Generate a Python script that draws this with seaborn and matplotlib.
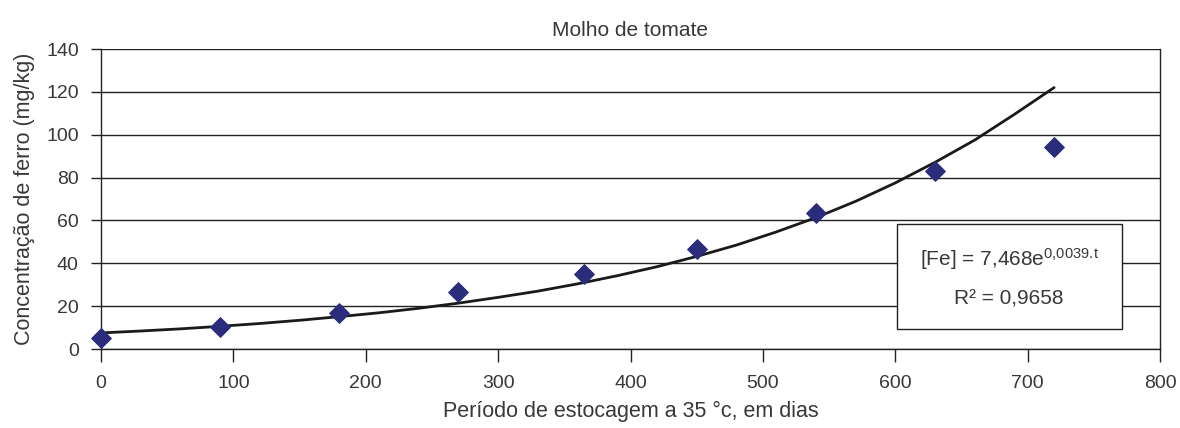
import numpy as np
import pandas as pd
import matplotlib
matplotlib.use("Agg")
import matplotlib.pyplot as plt
import seaborn as sns
from matplotlib.patches import Rectangle

# dados medidos (pontos)
dias = [0, 90, 180, 270, 365, 450, 540, 630, 720]
ferro = [5.0, 10.5, 17.0, 26.5, 35.0, 46.5, 63.5, 83.0, 94.5]

# curva de tendência
dias_curva = [0, 30, 60, 90, 120, 150, 180, 210, 240, 270, 300, 330, 360,
              390, 420, 450, 480, 510, 540, 570, 600, 630, 660, 690, 720]
ferro_curva = [7.5, 8.4, 9.4, 10.6, 11.9, 13.4, 15.1, 16.9, 19.0, 21.4, 24.1,
               27.0, 30.4, 34.2, 38.4, 43.2, 48.5, 54.6, 61.3, 68.9, 77.5,
               87.1, 97.5, 109.5, 122.0]

pontos = pd.DataFrame({"dias": dias, "ferro": ferro})
curva = pd.DataFrame({"dias": dias_curva, "ferro": ferro_curva})

sns.set_theme(style="ticks")
plt.rcParams['font.family'] = ['Liberation Sans', 'DejaVu Sans']
plt.rcParams['mathtext.default'] = 'regular'
cinza = "#383838"

fig, ax = plt.subplots(figsize=(11.8, 4.28), dpi=100)
fig.subplots_adjust(left=101/1180, right=1160/1180, bottom=1-349/428, top=1-49/428)

sns.lineplot(data=curva, x="dias", y="ferro", color="#1a1a1a", linewidth=2, ax=ax)
sns.scatterplot(data=pontos, x="dias", y="ferro", marker="D", s=100,
                color="#2b2d7c", edgecolor="#2b2d7c", zorder=5, ax=ax, clip_on=False)

ax.set_xlim(0, 800)
ax.set_ylim(0, 140)
ax.set_xticks(range(0, 801, 100))
ax.set_yticks(range(0, 141, 20))
ax.yaxis.grid(True, color="#222222", linewidth=1)
ax.set_axisbelow(True)
for s in ["left", "bottom", "right"]:
    ax.spines[s].set_color("#222222")
    ax.spines[s].set_linewidth(1)
ax.spines["top"].set_visible(False)
ax.tick_params(axis="both", direction="out", colors="#222222", labelcolor=cinza,
               labelsize=14, width=1)
ax.tick_params(axis="y", length=7, pad=9)
ax.tick_params(axis="x", length=9, pad=10)

ax.set_title("Molho de tomate", fontsize=15, color=cinza, pad=9)
ax.set_xlabel("Período de estocagem a 35 °c, em dias", fontsize=15.5, color=cinza, labelpad=6)
ax.set_ylabel("Concentração de ferro (mg/kg)", fontsize=15.5, color=cinza, labelpad=8)

# caixa da equação
ax.add_patch(Rectangle((601, 9.3), 170, 49, facecolor="white", edgecolor="#222222",
                       linewidth=1, zorder=6))
ax.text(686, 42, r"[Fe] = 7,468e$^{0{,}0039.\!t}$", ha="center", va="center",
        fontsize=15, color=cinza, zorder=7)
ax.text(686, 23.5, "R² = 0,9658", ha="center", va="center", fontsize=15, color=cinza, zorder=7)

fig.savefig("out.png", dpi=100)
